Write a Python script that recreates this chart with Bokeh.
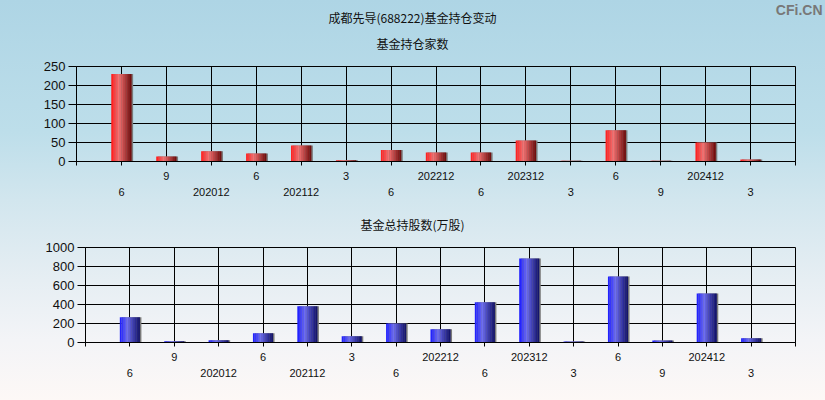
import numpy as np
from bokeh.plotting import figure
from bokeh.models import Range1d, FixedTicker, LinearAxis, Label
from bokeh.layouts import column
from bokeh.embed import file_html
from bokeh.resources import INLINE

# ---- data ----
periods = ["202006", "202009", "202012", "202106", "202112", "202203", "202206", "202212",
           "202306", "202312", "202403", "202406", "202409", "202412", "202503"]
tick_labels = ["6", "9", "202012", "6", "202112", "3", "6", "202212",
               "6", "202312", "3", "6", "9", "202412", "3"]
fund_count = [230, 13, 27, 21, 42, 3, 30, 24, 24, 55, 2, 82, 2, 50, 5]
fund_shares = [265, 12, 24, 97, 382, 66, 199, 140, 423, 885, 10, 696, 22, 517, 45]

main_title = "成都先导(688222)基金持仓变动"
sub_title1 = "基金持仓家数"
sub_title2 = "基金总持股数(万股)"
watermark = "CFi.CN"

W = 825
CJK = "Noto Sans CJK SC"
NUM = "Liberation Sans"

red_stops = [(0.0, (255, 25, 25)), (0.38, (242, 115, 115)), (0.6, (200, 75, 75)), (1.0, (105, 8, 8))]
blue_stops = [(0.0, (25, 25, 255)), (0.38, (110, 110, 240)), (0.6, (70, 70, 190)), (1.0, (15, 15, 100))]


def interp(stops, t):
    for (t0, c0), (t1, c1) in zip(stops[:-1], stops[1:]):
        if t <= t1:
            f = (t - t0) / (t1 - t0)
            c = [int(round(a + (b - a) * f)) for a, b in zip(c0, c1)]
            return "#%02x%02x%02x" % tuple(c)
    return "#%02x%02x%02x" % stops[-1][1]


def make_header(height):
    h = figure(width=W, height=height, output_backend="svg", toolbar_location=None, tools="",
               x_range=Range1d(0, W), y_range=Range1d(height, 0),
               x_axis_location=None, y_axis_location=None,
               min_border_top=0, min_border_bottom=0, min_border_left=0, min_border_right=0)
    h.frame_align = False
    h.outline_line_color = None
    h.background_fill_alpha = 0
    h.border_fill_alpha = 0
    h.grid.visible = False
    return h


def add_text(h, x, y, text, size="12px", font=CJK, color="#111111", align="center", style="normal"):
    h.add_layout(Label(x=x, y=y, text=text, text_align=align, text_baseline="middle",
                       text_font=font, text_font_size=size, text_color=color,
                       text_font_style=style))


def make_fig(values, ymax, ystep, stops, height, top, bottom, left, right):
    n = len(values)
    xs = np.arange(1, n + 1)
    p = figure(width=W, height=height, output_backend="svg", toolbar_location=None,
               x_range=Range1d(0, n + 1), y_range=Range1d(0, ymax),
               min_border_top=top, min_border_bottom=bottom,
               min_border_left=left, min_border_right=right,
               tools="", x_axis_location=None)
    p.frame_align = False
    p.background_fill_alpha = 0
    p.border_fill_alpha = 0
    p.outline_line_color = "black"
    p.outline_line_width = 1

    ticks = list(range(n + 2))
    p.xgrid.ticker = FixedTicker(ticks=ticks)
    p.xgrid.grid_line_color = "black"
    p.ygrid.grid_line_color = "black"
    p.ygrid.ticker = FixedTicker(ticks=list(range(0, ymax + 1, ystep)))

    yax = p.yaxis[0]
    yax.ticker = FixedTicker(ticks=list(range(0, ymax + 1, ystep)))
    yax.major_tick_out = 8
    yax.major_tick_in = 0
    yax.minor_tick_line_color = None
    yax.major_label_standoff = 3
    yax.major_label_text_font = NUM
    yax.major_label_text_font_size = "13px"
    yax.major_label_text_color = "#101010"
    yax.axis_line_color = "black"

    upper = {0: "", n + 1: ""}
    lower = {0: "", n + 1: ""}
    for i, lab in enumerate(tick_labels):
        upper[i + 1] = lab if i % 2 == 1 else ""
        lower[i + 1] = lab if i % 2 == 0 else ""

    ax1 = LinearAxis(ticker=FixedTicker(ticks=ticks), major_label_overrides=upper)
    ax1.major_tick_out = 4
    ax1.major_tick_in = 0
    ax1.minor_tick_line_color = None
    ax1.axis_line_color = "black"
    ax1.major_label_standoff = 6
    ax2 = LinearAxis(ticker=FixedTicker(ticks=ticks), major_label_overrides=lower)
    ax2.major_tick_line_color = None
    ax2.minor_tick_line_color = None
    ax2.axis_line_color = None
    ax2.major_tick_out = 0
    ax2.major_tick_in = 0
    ax2.major_label_standoff = 5
    for ax in (ax1, ax2):
        ax.major_label_text_font = NUM
        ax.major_label_text_font_size = "11px"
        ax.major_label_text_color = "#101010"
        p.add_layout(ax, "below")

    vals = np.array(values, dtype=float)
    bw = 0.45
    p.vbar(x=xs + 0.035, top=vals, width=bw, fill_color="#7a7a7a", line_color=None)
    N = 12
    for k in range(N):
        t = (k + 0.5) / N
        off = -bw / 2 + (k + 0.5) * bw / N
        p.vbar(x=xs + off, top=vals, width=bw / N * 1.08,
               fill_color=interp(stops, t), line_color=None)
    return p


# header 1: canvas rows 0..55
h1 = make_header(55)
add_text(h1, 412, 17, main_title)
add_text(h1, 412, 43, sub_title1)
add_text(h1, 822, 9, watermark, size="14px", font=NUM, color="#787878", align="right", style="bold")

# figure 1: canvas rows 55..205 ; frame x 76..795, y 66..161
p1 = make_fig(fund_count, 250, 50, red_stops, 150, 11, 44, 76, 30)

# header 2: canvas rows 205..235
h2 = make_header(30)
add_text(h2, 412, 19, sub_title2)

# figure 2: canvas rows 235..400 ; frame x 85..795, y 247..342
p2 = make_fig(fund_shares, 1000, 200, blue_stops, 165, 12, 58, 85, 30)

root = column(h1, p1, h2, p2, spacing=0,
              styles={"position": "absolute", "left": "0px", "top": "0px",
                      "background": "linear-gradient(to bottom, #aed5e5 0%, #bddeea 33%, #d2e6ee 50%, #e6eef3 70%, #f3f4f7 85%, #fdf8f6 100%)"})

open("out.html", "w").write(file_html(root, INLINE))
